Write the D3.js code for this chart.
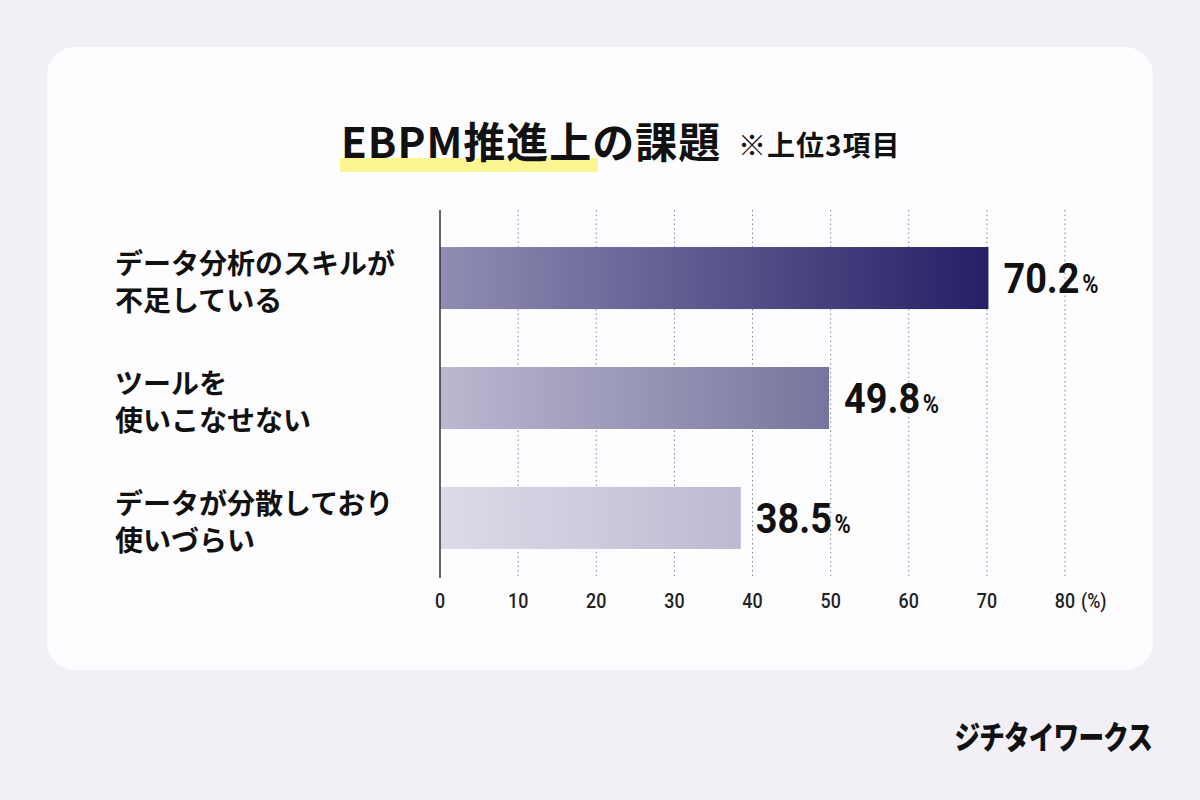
<!DOCTYPE html>
<html>
<head>
<meta charset="utf-8">
<script src="https://cdn.jsdelivr.net/npm/d3@7"></script>
<style>
  body { margin: 0; background: #f2f0f6; }
  svg { display: block; }
</style>
</head>
<body>
<script>
var categories = [['データ分析のスキルが', '不足している'], ['ツールを', '使いこなせない'], ['データが分散しており', '使いづらい']]
var values = [70.2, 49.8, 38.5]
var ticks = [0, 10, 20, 30, 40, 50, 60, 70, 80]
var barColors = [['#908db3', '#251f66'], ['#bbb8d1', '#77759d'], ['#dddbe8', '#bcbad2']]

var width = 1200
var height = 800
var jp = "'Noto Sans CJK JP', 'Noto Sans', sans-serif"
var num = "'Roboto', 'DejaVu Sans', sans-serif"

var svg = d3.select('body').append('svg')
  .attr('width', width)
  .attr('height', height)

svg.append('rect')
  .attr('width', width).attr('height', height)
  .style('fill', '#f2f0f6')

// card
svg.append('rect')
  .attr('x', 47).attr('y', 47)
  .attr('width', 1106).attr('height', 623)
  .attr('rx', 28)
  .style('fill', '#fdfcfe')

// title
svg.append('rect')
  .attr('x', 340).attr('y', 158)
  .attr('width', 258).attr('height', 14)
  .style('fill', '#fbf592')

svg.append('text')
  .attr('x', 341).attr('y', 158)
  .style('font-family', jp).style('font-weight', 700)
  .style('font-size', '42px').style('fill', '#111')
  .style('letter-spacing', '1px')
  .text('EBPM推進上の課題')

svg.append('text')
  .attr('x', 738).attr('y', 156)
  .style('font-family', jp).style('font-weight', 700)
  .style('font-size', '28px').style('fill', '#111')
  .style('letter-spacing', '1px')
  .text('※上位3項目')

var x = d3.scaleLinear().domain([0, 80]).range([440, 1065])
var y = d3.scaleBand().domain(d3.range(values.length)).range([218, 578]).paddingInner(0.483).paddingOuter(0.242)

// grid
svg.selectAll('.grid')
  .data(ticks.slice(1))
  .enter().append('line')
  .attr('x1', function(d) { return x(d) })
  .attr('x2', function(d) { return x(d) })
  .attr('y1', 210).attr('y2', 578)
  .style('stroke', '#8a8a96')
  .style('stroke-width', 1)
  .style('stroke-dasharray', '1.5,3')

// gradients
var defs = svg.append('defs')
barColors.forEach(function(c, i) {
  var g = defs.append('linearGradient')
    .attr('id', 'grad' + i)
    .attr('x1', '0%').attr('x2', '100%').attr('y1', '0%').attr('y2', '0%')
  g.append('stop').attr('offset', '0%').attr('stop-color', c[0])
  g.append('stop').attr('offset', '100%').attr('stop-color', c[1])
})

svg.selectAll('.bar')
  .data(values)
  .enter().append('rect')
  .attr('x', x(0))
  .attr('y', function(d, i) { return y(i) })
  .attr('width', function(d) { return x(d) - x(0) })
  .attr('height', y.bandwidth())
  .style('fill', function(d, i) { return 'url(#grad' + i + ')' })

// axis line
svg.append('line')
  .attr('x1', x(0)).attr('x2', x(0))
  .attr('y1', 210).attr('y2', 578)
  .style('stroke', '#333')
  .style('stroke-width', 1.5)

// tick labels (condensed look)
svg.selectAll('.tick')
  .data(ticks)
  .enter().append('text')
  .attr('transform', function(d) { return 'translate(' + x(d) + ',608) scale(0.85,1)' })
  .attr('text-anchor', 'middle')
  .style('font-family', num).style('font-weight', 500)
  .style('font-size', '21px').style('fill', '#222')
  .text(function(d) { return d })

svg.append('text')
  .attr('transform', 'translate(' + (x(80) + 16) + ',608) scale(0.85,1)')
  .style('font-family', num).style('font-weight', 500)
  .style('font-size', '21px').style('fill', '#222')
  .text('(%)')

// category labels
var labels = svg.selectAll('.label')
  .data(categories)
  .enter().append('text')
  .attr('x', 115)
  .attr('y', function(d, i) { return y(i) + y.bandwidth() / 2 })
  .style('font-family', jp).style('font-weight', 700)
  .style('font-size', '28px').style('fill', '#111')

labels.append('tspan')
  .attr('x', 115).attr('dy', -4)
  .text(function(d) { return d[0] })
labels.append('tspan')
  .attr('x', 115).attr('dy', 37)
  .text(function(d) { return d[1] })

// value labels
var vals = svg.selectAll('.value')
  .data(values)
  .enter().append('text')
  .attr('transform', function(d, i) {
    return 'translate(' + (x(d) + 15) + ',' + (y(i) + y.bandwidth() / 2 + 15) + ') scale(0.88,1)'
  })
  .style('font-family', num).style('font-weight', 700)
  .style('fill', '#111')

vals.append('tspan')
  .style('font-size', '43px')
  .text(function(d) { return d.toFixed(1) })
vals.append('tspan')
  .attr('dx', 3)
  .style('font-size', '25px')
  .text('%')

// logo
svg.append('text')
  .attr('transform', 'translate(1152,749) scale(0.8,1)')
  .attr('text-anchor', 'end')
  .style('font-family', jp).style('font-weight', 900)
  .style('font-size', '32px').style('fill', '#111')
  .style('letter-spacing', '-1px')
  .text('ジチタイワークス')
</script>
</body>
</html>
